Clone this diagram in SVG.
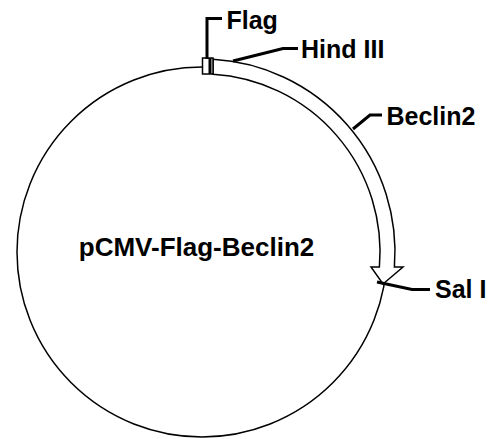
<svg xmlns="http://www.w3.org/2000/svg" width="491" height="439" viewBox="0 0 491 439">
<style>
.ln{fill:none;stroke:#000;stroke-width:1.5}
.ld{fill:none;stroke:#000;stroke-width:3;stroke-linejoin:miter}
.lb{font-family:"Liberation Sans",Arial,sans-serif;font-weight:bold;font-size:25px;fill:#000}
</style>
<rect width="491" height="439" fill="#fff"/>
<g id="plasmid">
<circle class="ln" cx="202" cy="252" r="185"/>
<text class="lb" x="196.5" y="256" text-anchor="middle" style="font-size:26px">pCMV-Flag-Beclin2</text>
</g>
<g id="beclin2">
<path d="M213,59.3 A193,193 0 0 1 394.4,267 L403,267 L383,284 L371,267 L379.4,267 A178,178 0 0 0 213,74.3 Z" fill="#fff" stroke="#000" stroke-width="1.5" stroke-linejoin="miter"/>
</g>
<g id="flag">
<rect x="202.5" y="58" width="10.5" height="16" fill="#fff" stroke="#000" stroke-width="1.5"/>
<rect x="208.5" y="58" width="3" height="16" fill="#000"/>
</g>
<g id="connectors">
<polyline class="ld" points="207,59 207,18.5 222,18.5"/>
<polyline class="ld" points="233,61 283,48.5 298,48.5"/>
<polyline class="ld" points="353,129 370,115 382,115"/>
<polyline class="ld" points="377,282 412,289.5 430,289.5"/>
</g>
<g id="labels">
<text class="lb" x="226.5" y="28.5">Flag</text>
<text class="lb" x="301" y="58.3">Hind III</text>
<text class="lb" x="386.5" y="125">Beclin2</text>
<text class="lb" x="435" y="298.3">Sal I</text>
</g>
</svg>
